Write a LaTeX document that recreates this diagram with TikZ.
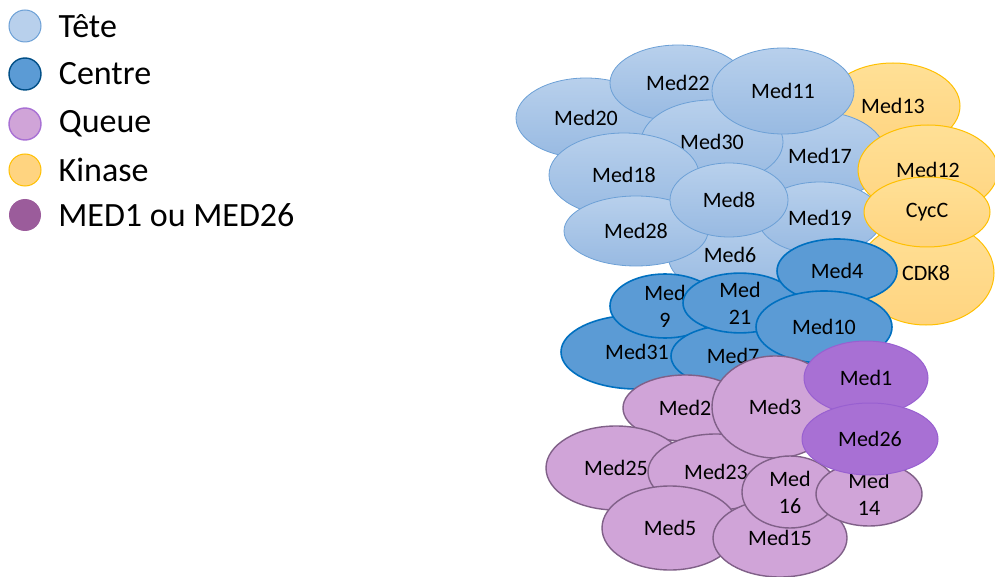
\documentclass[tikz,border=0pt]{standalone}
\usepackage{xcolor}
\usepackage{fontspec}
\usepackage{tikz}
\usetikzlibrary{positioning,shapes.geometric}
\setmainfont{Carlito}

\definecolor{teteA}{RGB}{184,208,236}
\definecolor{teteB}{RGB}{152,186,226}
\definecolor{teteL}{RGB}{108,160,214}
\definecolor{centreF}{RGB}{91,155,213}
\definecolor{centreL}{RGB}{0,112,192}
\definecolor{queueF}{RGB}{208,164,216}
\definecolor{queueL}{RGB}{128,96,136}
\definecolor{kinA}{RGB}{255,224,150}
\definecolor{kinB}{RGB}{255,212,128}
\definecolor{kinL}{RGB}{255,192,0}
\definecolor{medunF}{RGB}{168,112,212}
\definecolor{medunL}{RGB}{152,96,208}
\definecolor{medunG}{RGB}{155,92,155}

\tikzset{
  sub/.style={ellipse, inner sep=0pt, align=center,
    font=\fontsize{22}{27}\selectfont},
  tete/.style={sub, draw=teteL, line width=0.8pt, top color=teteA, bottom color=teteB},
  centre/.style={sub, draw=centreL, line width=1.6pt, fill=centreF},
  queue/.style={sub, draw=queueL, line width=1.4pt, fill=queueF},
  kinase/.style={sub, draw=kinL, line width=1pt, top color=kinA, bottom color=kinB},
  medun/.style={sub, draw=medunL, line width=1pt, fill=medunF},
  puce/.style={circle, minimum size=32pt, inner sep=0pt},
  legtxt/.style={inner sep=0pt, font=\fontsize{34}{40}\selectfont}
}
\newcommand{\sub}[6]{\node[#1, minimum width=#4pt, minimum height=#5pt] (#6) at (#2,#3) {#6};}
\newcommand{\subl}[7]{\node[#1, minimum width=#4pt, minimum height=#5pt] (#6) at (#2,#3) {#7};}

\begin{document}
\begin{tikzpicture}[x=1pt,y=-1pt]
\useasboundingbox (0,0) rectangle (995,577);

% legende
\node[puce, fill=teteA, draw=teteL, line width=1pt] (lt) at (25,26) {};
\node[legtxt, right=17pt of lt] (tt) {Tête};
\node[puce, fill=centreF, draw=centreL!70!black, line width=1.4pt] (lc) at (25,74) {};
\node[legtxt, right=17pt of lc] (tc) {Centre};
\node[puce, fill=queueF, draw=medunF, line width=1.4pt] (lq) at (25,124) {};
\node[legtxt, right=17pt of lq] (tq) {Queue};
\node[puce, fill=kinB, draw=kinL, line width=1pt] (lk) at (25,170) {};
\node[legtxt, right=17pt of lk] (tk) {Kinase};
\node[puce, fill=medunG] (lm) at (25,215) {};
\node[legtxt, right=17pt of lm] (tm) {MED1 ou MED26};

% tete
\sub{tete}{586}{118}{140}{80}{Med20}
\sub{tete}{678}{83}{136}{76}{Med22}
\sub{kinase}{893}{106}{134}{86}{Med13}
\sub{tete}{820}{156}{132}{88}{Med17}
\sub{tete}{712}{142}{142}{84}{Med30}
\sub{tete}{783}{91}{142}{86}{Med11}
\sub{tete}{624}{175}{150}{84}{Med18}
\sub{kinase}{928}{170}{140}{90}{Med12}
\sub{kinase}{926}{273}{136}{104}{CDK8}
\sub{tete}{730}{255}{124}{80}{Med6}
\sub{tete}{636}{231}{144}{70}{Med28}
\sub{tete}{820}{218}{124}{72}{Med19}
\sub{tete}{729}{200}{118}{74}{Med8}
\sub{kinase}{927}{212}{126}{70}{CycC}

% centre
\sub{centre}{637}{352}{152}{74}{Med31}
\subl{centre}{665}{306}{110}{64}{Med9}{Med\\9}
\sub{centre}{733}{356}{124}{62}{Med7}
\subl{centre}{740}{303}{114}{58}{Med21}{Med\\21}
\sub{centre}{837}{271}{120}{64}{Med4}
\sub{centre}{824}{327}{136}{72}{Med10}

% queue
\sub{queue}{685}{408}{124}{66}{Med2}
\sub{queue}{616}{468}{140}{84}{Med25}
\sub{queue}{716}{472}{136}{76}{Med23}
\sub{queue}{775}{407}{126}{102}{Med3}
\sub{queue}{670}{528}{136}{84}{Med5}
\sub{queue}{780}{538}{134}{78}{Med15}
\subl{queue}{790}{492}{96}{72}{Med16}{Med\\16}
\subl{queue}{869}{494}{106}{64}{Med14}{Med\\14}
\sub{medun}{866}{378}{124}{74}{Med1}
\sub{medun}{870}{439}{136}{72}{Med26}

\end{tikzpicture}
\end{document}
